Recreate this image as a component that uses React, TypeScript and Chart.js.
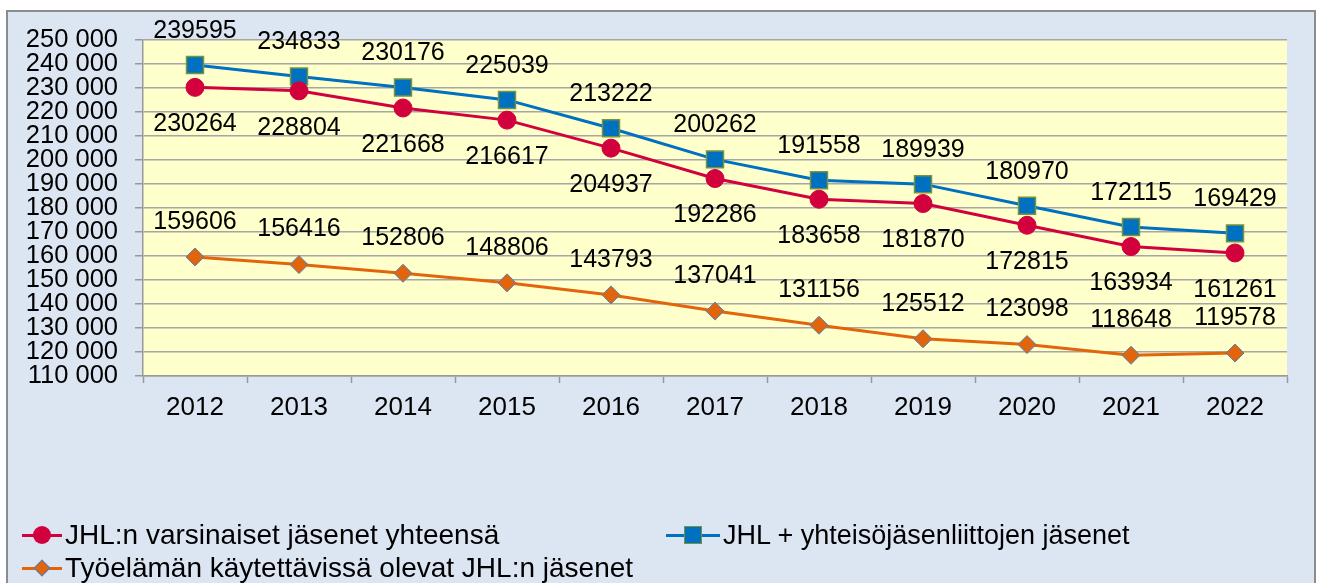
import React, { useEffect, useRef } from "react";
import { Chart, registerables } from "chart.js";

Chart.register(...registerables);

const years = ["2012", "2013", "2014", "2015", "2016", "2017", "2018", "2019", "2020", "2021", "2022"];
const varsinaiset = [230264, 228804, 221668, 216617, 204937, 192286, 183658, 181870, 172815, 163934, 161261];
const yhteiso = [239595, 234833, 230176, 225039, 213222, 200262, 191558, 189939, 180970, 172115, 169429];
const tyoelama = [159606, 156416, 152806, 148806, 143793, 137041, 131156, 125512, 123098, 118648, 119578];
const seriesNames = [
  "JHL:n varsinaiset jäsenet yhteensä",
  "JHL + yhteisöjäsenliittojen jäsenet",
  "Työelämän käytettävissä olevat JHL:n jäsenet",
];

const FONT = "'Liberation Sans', Arial, sans-serif";
const RED = "#d2003c";
const BLUE = "#0070c0";
const ORANGE = "#e2650c";

const fmt = (v: number) => String(v).replace(/\B(?=(\d{3})+(?!\d))/g, " ");

const labelOffsets = [37, -34, -35];

const bgPlugin = {
  id: "plotBg",
  beforeDraw(chart: any) {
    const { ctx, chartArea } = chart;
    ctx.save();
    ctx.fillStyle = "#ffffcc";
    ctx.fillRect(chartArea.left, chartArea.top, chartArea.right - chartArea.left, chartArea.bottom - chartArea.top);
    ctx.restore();
  },
};

const labelPlugin = {
  id: "valueLabels",
  afterDatasetsDraw(chart: any) {
    const { ctx } = chart;
    ctx.save();
    ctx.font = `25px ${FONT}`;
    ctx.fillStyle = "#000";
    ctx.textAlign = "center";
    ctx.textBaseline = "middle";
    chart.data.datasets.forEach((ds: any, i: number) => {
      const meta = chart.getDatasetMeta(i);
      meta.data.forEach((pt: any, j: number) => {
        ctx.fillText(String(ds.data[j]), pt.x, pt.y + labelOffsets[i]);
      });
    });
    ctx.restore();
  },
};

function LegendItem({ x, y, lineW, color, marker, text, size }: any) {
  return (
    <div style={{ position: "absolute", left: x, top: y - 15, height: 30, display: "flex", alignItems: "center" }}>
      <div style={{ position: "relative", width: lineW, height: 30 }}>
        <div style={{ position: "absolute", left: 0, top: 13.5, width: lineW, height: 3, background: color }} />
        {marker}
      </div>
      <span style={{ fontFamily: FONT, fontSize: size, lineHeight: "30px", color: "#000", marginLeft: 3, whiteSpace: "nowrap" }}>{text}</span>
    </div>
  );
}

export default function App() {
  const ref = useRef<HTMLCanvasElement>(null);
  useEffect(() => {
    const chart = new Chart(ref.current!, {
      type: "line",
      data: {
        labels: years,
        datasets: [
          {
            label: seriesNames[0],
            data: varsinaiset,
            borderColor: RED,
            backgroundColor: RED,
            borderWidth: 3,
            pointStyle: "circle",
            pointRadius: 9,
            pointBackgroundColor: RED,
            pointBorderColor: RED,
            pointBorderWidth: 1,
          },
          {
            label: seriesNames[1],
            data: yhteiso,
            borderColor: BLUE,
            backgroundColor: BLUE,
            borderWidth: 3,
            pointStyle: "rect",
            pointRadius: 12,
            pointBackgroundColor: BLUE,
            pointBorderColor: "#77933c",
            pointBorderWidth: 1.5,
          },
          {
            label: seriesNames[2],
            data: tyoelama,
            borderColor: ORANGE,
            backgroundColor: ORANGE,
            borderWidth: 3,
            pointStyle: "rectRot",
            pointRadius: 9,
            pointBackgroundColor: ORANGE,
            pointBorderColor: "#4f81bd",
            pointBorderWidth: 1,
          },
        ],
      },
      options: {
        animation: false,
        responsive: false,
        devicePixelRatio: 1,
        layout: { padding: { left: 0, top: 40, right: 30, bottom: 147 } },
        plugins: { legend: { display: false }, tooltip: { enabled: false } },
        scales: {
          x: {
            type: "category",
            offset: true,
            afterFit(scale: any) {
              scale.height = 60;
            },
            grid: {
              offset: true,
              drawOnChartArea: false,
              drawTicks: true,
              tickLength: 7,
              tickColor: "#999999",
              tickWidth: 1.5,
            },
            border: { display: true, color: "#999999", width: 1.5 },
            ticks: { color: "#000", font: { family: FONT, size: 26 }, padding: 9, maxRotation: 0, autoSkip: false },
          },
          y: {
            min: 110000,
            max: 250000,
            afterFit(scale: any) {
              scale.width = 143;
            },
            ticks: {
              stepSize: 10000,
              autoSkip: false,
              color: "#000",
              font: { family: FONT, size: 25.5 },
              padding: 17,
              callback: (v: any) => fmt(Number(v)),
            },
            grid: {
              color: "#a6a6a6",
              lineWidth: 1.5,
              borderDash: [6, 4],
              drawTicks: true,
              tickLength: 8,
              tickColor: "#999999",
              tickWidth: 1.5,
              tickBorderDash: [],
            },
            border: { display: true, color: "#999999", width: 1.5 },
          },
        },
      },
      plugins: [bgPlugin, labelPlugin],
    } as any);
    return () => chart.destroy();
  }, []);

  return (
    <div style={{ position: "absolute", left: 0, top: 0, width: 1317, height: 583, overflow: "hidden" }}>
      <div
        style={{
          position: "absolute",
          left: 6,
          top: 10,
          width: 1310,
          height: 580,
          boxSizing: "border-box",
          border: "2px solid #8c8c8c",
          background: "#dce6f2",
        }}
      />
      <canvas ref={ref} width={1317} height={583} style={{ position: "absolute", left: 0, top: 0, width: 1317, height: 583 }} />
      <LegendItem
        x={22}
        y={535}
        lineW={40}
        size={28}
        color={RED}
        text={seriesNames[0]}
        marker={<div style={{ position: "absolute", left: 11, top: 6, width: 18, height: 18, borderRadius: 9, background: RED }} />}
      />
      <LegendItem
        x={666}
        y={535}
        lineW={54}
        size={27}
        color={BLUE}
        text={seriesNames[1]}
        marker={
          <div
            style={{
              position: "absolute",
              left: 18,
              top: 6,
              width: 18,
              height: 18,
              boxSizing: "border-box",
              background: BLUE,
              border: "1.5px solid #77933c",
            }}
          />
        }
      />
      <LegendItem
        x={22}
        y={568}
        lineW={40}
        size={28}
        color={ORANGE}
        text={seriesNames[2]}
        marker={
          <div
            style={{
              position: "absolute",
              left: 14,
              top: 9,
              width: 12,
              height: 12,
              boxSizing: "border-box",
              background: ORANGE,
              border: "1px solid #4f81bd",
              transform: "rotate(45deg)",
            }}
          />
        }
      />
    </div>
  );
}
